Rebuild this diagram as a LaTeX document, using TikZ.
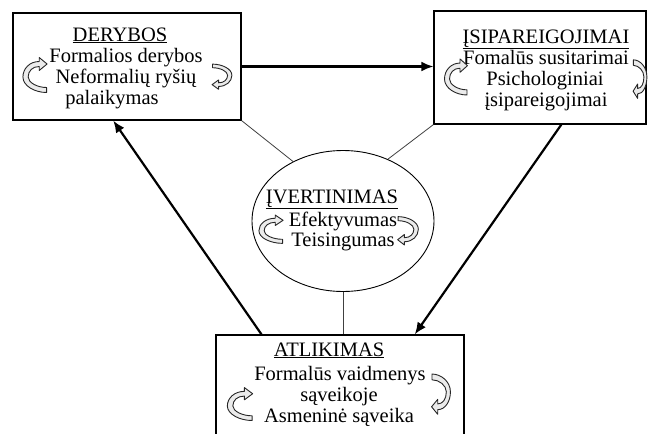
\documentclass[tikz,border=0pt]{standalone}
\usepackage{fontspec}
\setmainfont{Liberation Serif}
\usetikzlibrary{arrows.meta,shapes.geometric,calc}

\tikzset{
  panel/.style={draw=black, line width=1.2pt, fill=white, inner sep=0pt},
  oval/.style={ellipse, draw=black, line width=0.9pt, fill=white, inner sep=0pt},
  label/.style={anchor=base, inner sep=0pt, font=\fontsize{20.5}{21}\selectfont},
  link/.style={draw=black!75, line width=0.8pt},
  flow/.style={draw=black, line width=2.2pt, -{Latex[length=12pt,width=10pt]}},
  % hollow curved arrow; local frame 22 x 32, y pointing down
  curl/.pic={
    \filldraw[draw=black!85, fill=black!8, line width=0.9pt, line join=round]
      (4,-18.5) -- (11.5,-12) -- (4,-5.5) -- (4,-9.5)
      .. controls (-2.5,-9.5) and (-6.5,-5) .. (-6.5,1)
      .. controls (-6.5,6.5) and (2,11.5) .. (11,11.5)
      -- (11,16.5)
      .. controls (0,16.5) and (-11.5,10) .. (-11.5,1)
      .. controls (-11.5,-7.5) and (-5,-14.5) .. (4,-14.5) -- cycle;
  }
}

\begin{document}
\begin{tikzpicture}[x=1pt, y=-1pt]
  \useasboundingbox (0,0) rectangle (651,434);

  % frames
  \node[panel, minimum width=228pt, minimum height=107pt] (der) at (127,66.5) {};
  \node[panel, minimum width=212pt, minimum height=113pt] (isi) at (540,67.5) {};
  \node[oval, minimum width=182pt, minimum height=141pt] (ell) at (343,221) {};
  \node[panel, minimum width=248pt, minimum height=110pt] (atl) at (340,390) {};

  % connectors
  \draw[flow] (der.east) -- (der.east -| isi.west);
  \draw[link] (der.south east) -- (ell.130);
  \draw[link] (isi.south west) -- (ell.54);
  \draw[link] (ell.south) -- (ell.south |- atl.north);
  \draw[flow] ($(isi.south west)!0.6!(isi.south east)$) -- ($(atl.north west)!0.8!(atl.north east)$);
  \draw[flow] ($(atl.north west)!0.185!(atl.north east)$) -- ($(der.south west)!0.44!(der.south east)$);

  % DERYBOS
  \node[label] (d0) at (120,41) {\underline{DERYBOS}};
  \node[label] (d1) at (126,62) {Formalios derybos};
  \node[label] (d2) at (126,83) {Neformalių ryšių};
  \node[label] (d3) at (112,104) {palaikymas};
  \pic[xscale=1.05, yscale=1.0] at (35,76) {curl};
  \pic[rotate=180, xscale=0.86, yscale=0.72] at (222,76) {curl};

  % ĮSIPAREIGOJIMAI
  \node[label] (i0) at (546,43) {\underline{ĮSIPAREIGOJIMAI}};
  \node[label] (i1) at (546,64) {Fomalūs susitarimai};
  \node[label] (i2) at (545,85) {Psichologiniai};
  \node[label] (i3) at (546,106) {įsipareigojimai};
  \pic[xscale=1.0, yscale=1.03] at (456,78) {curl};
  \pic[rotate=180, xscale=0.6, yscale=1.1] at (640,78) {curl};

  % ĮVERTINIMAS
  \node[label] (e0) at (332,203) {\underline{ĮVERTINIMAS}};
  \node[label] (e1) at (343,226) {Efektyvumas};
  \node[label] (e2) at (343,246) {Teisingumas};
  \pic[xscale=1.05, yscale=0.81] at (271,230) {curl};
  \pic[rotate=180, xscale=0.9, yscale=0.81] at (408,230) {curl};

  % ATLIKIMAS
  \node[label] (a0) at (329,356) {\underline{ATLIKIMAS}};
  \node[label] (a1) at (340,380) {Formalūs vaidmenys};
  \node[label] (a2) at (339,401) {sąveikoje};
  \node[label] (a3) at (339,422) {Asmeninė sąveika};
  \pic[xscale=1.1, yscale=0.94] at (240,405) {curl};
  \pic[rotate=180, xscale=0.82, yscale=1.15] at (441,393) {curl};
\end{tikzpicture}
\end{document}
